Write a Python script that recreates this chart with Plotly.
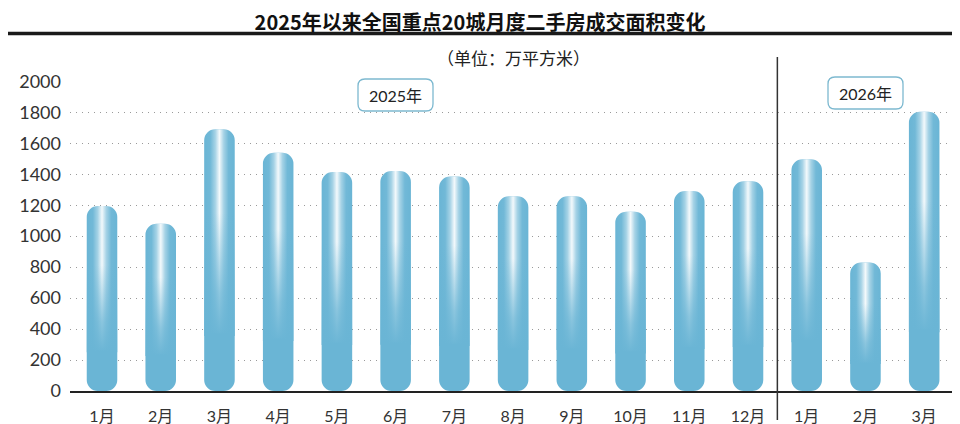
import plotly.graph_objects as go

# data (万平方米)
months = ["1月", "2月", "3月", "4月", "5月", "6月", "7月", "8月", "9月", "10月",
          "11月", "12月", "1月", "2月", "3月"]
area = [1195, 1080, 1690, 1538, 1414, 1421, 1385, 1258, 1258, 1157,
        1291, 1354, 1496, 830, 1803]
year_labels = ["2025年", "2026年"]
y_ticks = list(range(0, 2001, 200))

pos = list(range(len(months)))
n_2025 = 12

FONT = "Lato, 'Noto Sans CJK SC', sans-serif"
CJK = "'Noto Sans CJK SC', sans-serif"
BLUE = "#6ab5d5"
BAR_W = 0.52

# the page body adds an 8px margin, so the figure is drawn 8px smaller and shifted
OFF = 8
W, H = 960 - OFF, 424 - OFF
# plot box in reference pixels
PL, PR, PT, PB = 70, 960, 81, 391


def px(x):
    return (x - PL) / (PR - PL)


def py(y):
    return (PB - y) / (PB - PT)


def rounded_box(x0, y0, x1, y1, r):
    pts = [
        ("M", [(x0 + r, y0)]), ("L", [(x1 - r, y0)]), ("Q", [(x1, y0), (x1, y0 + r)]),
        ("L", [(x1, y1 - r)]), ("Q", [(x1, y1), (x1 - r, y1)]), ("L", [(x0 + r, y1)]),
        ("Q", [(x0, y1), (x0, y1 - r)]), ("L", [(x0, y0 + r)]), ("Q", [(x0, y0), (x0 + r, y0)]),
    ]
    path = ""
    for cmd, coords in pts:
        path += cmd + " " + " ".join(f"{px(a):.5f},{py(b):.5f}" for a, b in coords) + " "
    return path + "Z"


fig = go.Figure()

# explicit base -> plotly rounds both ends of the bar
fig.add_trace(go.Bar(x=pos, y=area, base=[0] * len(area), width=BAR_W,
                     marker=dict(color=BLUE, line=dict(width=0), cornerradius=11),
                     hoverinfo="skip", showlegend=False))

# glossy highlight: white stripe in the middle, faded back to blue towards the bottom
shine = [[0, "rgba(255,255,255,0)"], [0.2, "rgba(255,255,255,0.05)"], [0.36, "rgba(255,255,255,0.4)"],
         [0.5, "rgba(255,255,255,0.92)"], [0.64, "rgba(255,255,255,0.4)"], [0.8, "rgba(255,255,255,0.05)"],
         [1, "rgba(255,255,255,0)"]]
fade = [[0, "rgba(106,181,213,1)"], [0.35, "rgba(106,181,213,0.75)"], [1, "rgba(106,181,213,0)"]]
for p, v in zip(pos, area):
    xl, xr = p - BAR_W / 2, p + BAR_W / 2
    lo = 0.22 * v
    fig.add_trace(go.Scatter(x=[xl, xr, xr, xl, xl], y=[lo, lo, v, v, lo], mode="lines", fill="toself",
                             line=dict(width=0), fillgradient=dict(type="horizontal", colorscale=shine),
                             hoverinfo="skip", showlegend=False))
for p, v in zip(pos, area):
    xl, xr = p - BAR_W / 2, p + BAR_W / 2
    lo, hi = 0.21 * v, 0.68 * v
    fig.add_trace(go.Scatter(x=[xl, xr, xr, xl, xl], y=[lo, lo, hi, hi, lo], mode="lines", fill="toself",
                             line=dict(width=0), fillgradient=dict(type="vertical", colorscale=fade),
                             hoverinfo="skip", showlegend=False))

shapes = [
    # thick rule under the title
    dict(type="line", xref="paper", yref="paper", x0=px(0), x1=px(960), y0=py(33.5), y1=py(33.5),
         line=dict(color="#1a1a1a", width=3.5)),
    # divider between 2025 and 2026
    dict(type="line", xref="x", yref="paper", x0=n_2025 - 0.5, x1=n_2025 - 0.5, y0=py(57), y1=py(420),
         line=dict(color="#333333", width=1.5)),
    dict(type="path", xref="paper", yref="paper", path=rounded_box(358, 79, 433, 111, 7),
         line=dict(color="#7db9d0", width=1.3), fillcolor="white"),
    dict(type="path", xref="paper", yref="paper", path=rounded_box(828, 77, 903, 109, 7),
         line=dict(color="#7db9d0", width=1.3), fillcolor="white"),
]

annotations = [
    dict(xref="paper", yref="paper", x=px(513), y=py(57), text="（单位：万平方米）", showarrow=False,
         font=dict(family=CJK, size=17, color="#222222"), xanchor="center", yanchor="middle"),
    dict(xref="paper", yref="paper", x=px(395.5), y=py(95), text=year_labels[0], showarrow=False,
         font=dict(family=FONT, size=16, color="#222222"), xanchor="center", yanchor="middle"),
    dict(xref="paper", yref="paper", x=px(865.5), y=py(93), text=year_labels[1], showarrow=False,
         font=dict(family=FONT, size=16, color="#222222"), xanchor="center", yanchor="middle"),
]

fig.update_layout(
    width=W, height=H,
    margin=dict(l=PL - OFF, r=960 - PR, t=PT - OFF, b=424 - PB),
    paper_bgcolor="white", plot_bgcolor="white",
    barmode="overlay", showlegend=False,
    title=dict(text="<b>2025年以来全国重点20城月度二手房成交面积变化</b>", x=(480 - OFF) / W, xref="container",
               y=1 - 15 / H, yref="container", xanchor="center", yanchor="middle",
               font=dict(family=CJK, size=20, color="#111111")),
    shapes=shapes, annotations=annotations,
)
fig.update_xaxes(range=[-0.545, 14.61], tickvals=pos, ticktext=months, showgrid=False, zeroline=False,
                 showline=True, linecolor="#222222", linewidth=1.5, ticks="", ticklabelstandoff=10,
                 tickfont=dict(family=FONT, size=16, color="#333333"), fixedrange=True)
fig.update_yaxes(range=[0, 2002], tickvals=y_ticks, showgrid=True, gridcolor="#9a9a9a", gridwidth=1.3,
                 griddash="1px,5px", zeroline=False, showline=False, ticks="", ticklabelstandoff=8,
                 tickfont=dict(family=FONT, size=18, color="#333333"), fixedrange=True)

fig.write_html("out.html")
